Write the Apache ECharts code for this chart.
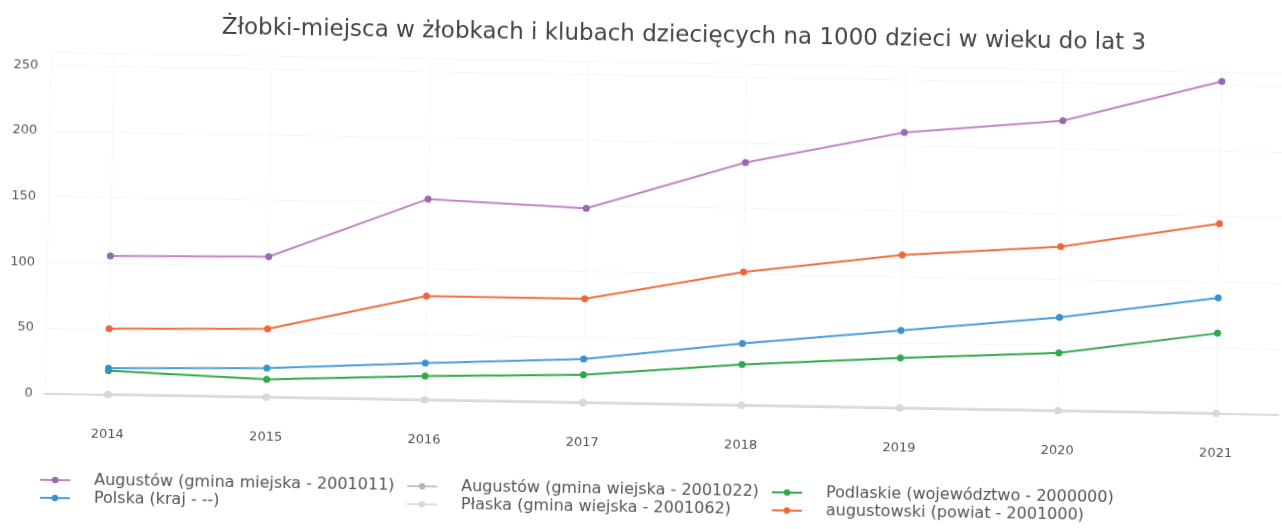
<!DOCTYPE html>
<html>
<head>
<meta charset="utf-8">
<script src="https://cdn.jsdelivr.net/npm/echarts@6/dist/echarts.min.js"></script>
<style>
  html, body { margin: 0; padding: 0; background: #fff; overflow: hidden; }
  #chart { width: 1282px; height: 529px; transform: rotate(0.98deg); }
</style>
</head>
<body>
<div id="chart"></div>
<script>
const years = [2014, 2015, 2016, 2017, 2018, 2019, 2020, 2021];
const augustowMiejska = [105.5, 107, 153, 148, 185, 210, 221, 253];
const augustowWiejska = [0, 0, 0, 0, 0, 0, 0, 0];
const podlaskie = [18, 13.5, 18, 21, 31, 38, 44, 61];
const polska = [20, 22, 28, 33, 47, 59, 71, 88];
const plaska = [0, 0, 0, 0, 0, 0, 0, 0];
const augustowski = [50, 52, 79, 79, 101.5, 116.5, 125, 144.5];
const yTicks = [0, 50, 100, 150, 200, 250];

const font = 'DejaVu Sans';

function pairs(values) {
  return years.map((y, i) => [y, values[i]]);
}

function line(name, values, dot, stroke, z) {
  return {
    name: name,
    type: 'line',
    data: pairs(values),
    symbol: 'circle',
    symbolSize: 7,
    clip: false,
    z: z,
    itemStyle: { color: dot },
    lineStyle: { color: stroke, width: 2 }
  };
}

const series = [
  line('Augustów (gmina miejska - 2001011)', augustowMiejska, '#9a68b2', '#c684c6', 3),
  line('Augustów (gmina wiejska - 2001022)', augustowWiejska, '#b4b4b4', '#c4c4c4', 2),
  line('Podlaskie (województwo - 2000000)', podlaskie, '#2ea84c', '#35a94a', 3),
  line('Polska (kraj - --)', polska, '#3b90d2', '#4a9fdc', 3),
  line('Płaska (gmina wiejska - 2001062)', plaska, '#d8d8d8', '#dedede', 2),
  line('augustowski (powiat - 2001000)', augustowski, '#f2653b', '#f2703f', 3)
];

// legend: 3 columns x 2 rows
const legendCols = [43, 410, 775];
const legendRows = [482, 500];
const legendOrder = [
  [0, 0, 0], [1, 0, 1], [2, 0, 2],
  [3, 1, 0], [4, 1, 1], [5, 1, 2]
];
const legends = legendOrder.map(([s, r, c]) => ({
  data: [series[s].name],
  left: legendCols[c],
  top: legendRows[r],
  padding: 0,
  itemWidth: 30,
  itemHeight: 8,
  formatter: n => '{g|}' + n,
  textStyle: {
    fontFamily: font, fontSize: 16, color: '#555',
    rich: { g: { width: 19 } }
  }
}));

const chart = echarts.init(document.getElementById('chart'));
chart.setOption({
  backgroundColor: '#fff',
  animation: false,
  title: {
    text: 'Żłobki-miejsca w żłobkach i klubach dziecięcych na 1000 dzieci w wieku do lat 3',
    left: 680,
    top: 24,
    textAlign: 'center',
    padding: 0,
    textStyle: { fontFamily: font, fontSize: 23, fontWeight: 'normal', color: '#444' }
  },
  legend: legends,
  grid: { left: 47, top: 62.3, width: 1240, height: 341.1 },
  xAxis: {
    type: 'value',
    min: 2013.6,
    max: 2021.4,
    splitNumber: 8,
    axisLine: { onZero: true, lineStyle: { color: '#d9d9d9', width: 2 } },
    axisTick: { show: false },
    splitLine: { show: true, lineStyle: { color: '#f6f6f6' } },
    axisLabel: {
      showMinLabel: false,
      showMaxLabel: false,
      margin: 34,
      fontFamily: font,
      fontSize: 13,
      color: '#555',
      formatter: v => String(Math.round(v))
    }
  },
  yAxis: {
    type: 'value',
    min: 0,
    max: 260,
    interval: 50,
    axisLine: { show: false },
    axisTick: { show: false },
    splitLine: { show: true, lineStyle: { color: '#f6f6f6' } },
    axisLabel: {
      margin: 12,
      fontFamily: font,
      fontSize: 13,
      color: '#555',
      showMaxLabel: false,
      formatter: v => yTicks.includes(v) ? String(v) : ''
    }
  },
  series: series
});
</script>
</body>
</html>
